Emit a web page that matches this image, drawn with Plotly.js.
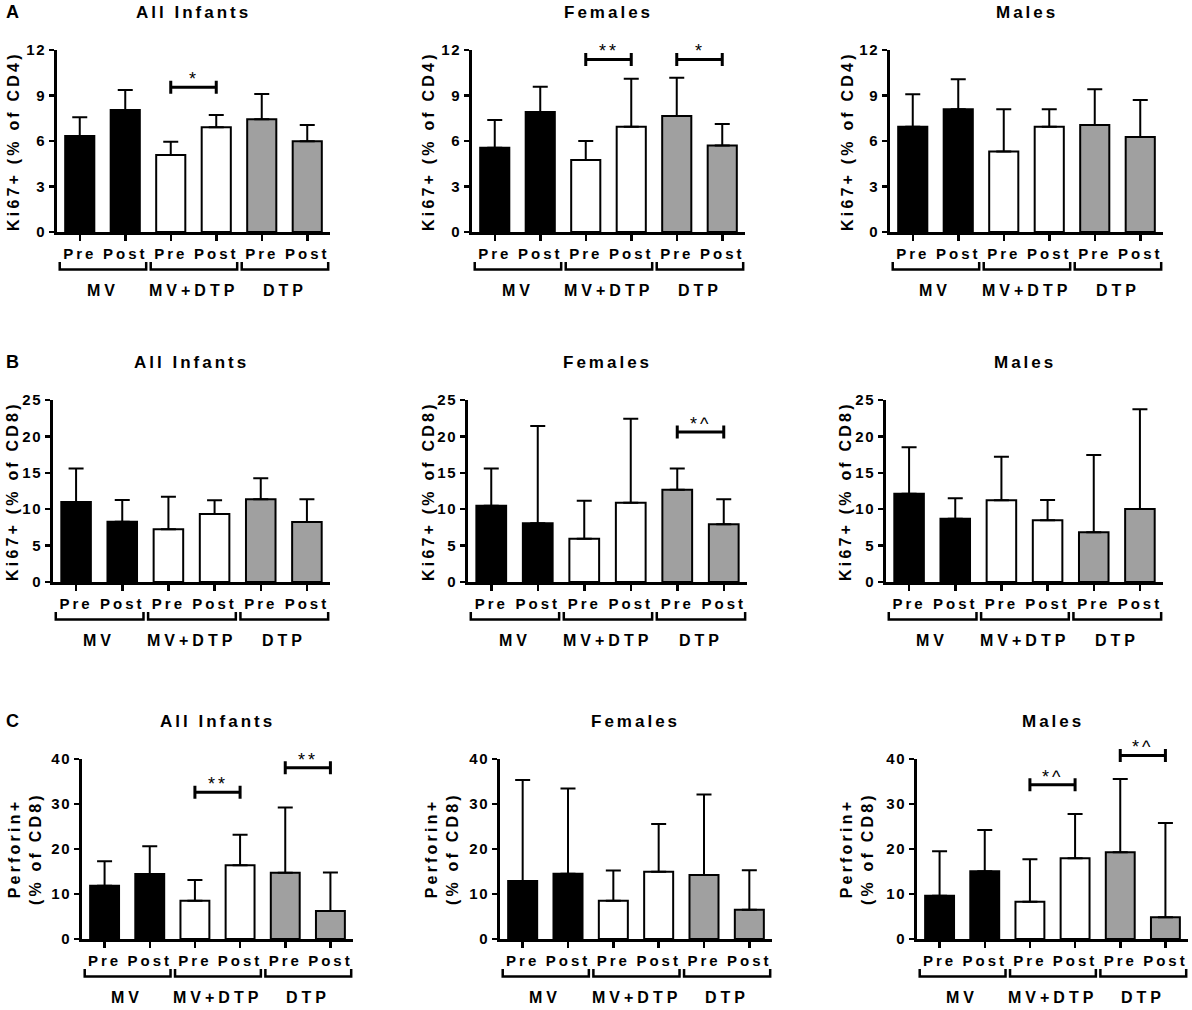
<!DOCTYPE html>
<html>
<head>
<meta charset="utf-8">
<script src="https://cdn.plot.ly/plotly-3.0.1.min.js"></script>
<style>
  html, body { margin: 0; padding: 0; background: white; }
  #chart { width: 1192px; height: 1010px; }
  .xaxislayer-above text { letter-spacing: 3px; }
  .yaxislayer-above text { letter-spacing: 1.5px; }
</style>
</head>
<body>
<div id="chart"></div>
<script>
// Ki67+ and Perforin+ T cells, pre vs post vaccination, by vaccine group and sex

const timepoints = ['Pre', 'Post', 'Pre', 'Post', 'Pre', 'Post'];
const groups = ['MV', 'MV+DTP', 'DTP'];
const cohorts = ['All Infants', 'Females', 'Males'];
const rowLetters = ['A', 'B', 'C'];
const rowTitles = ['Ki67+ (% of CD4)', 'Ki67+ (% of CD8)', 'Perforin+<br>(% of CD8)'];
const rowMax = [12, 25, 40];
const rowDtick = [3, 5, 10];

// bar heights (mean) per cohort: all infants, females, males
const ki67Cd4Mean = [
    [6.33, 8.04, 5.08, 6.90, 7.43, 5.98],
    [5.56, 7.91, 4.75, 6.94, 7.65, 5.71],
    [6.94, 8.09, 5.30, 6.94, 7.05, 6.26]
];
const ki67Cd4Upper = [
    [7.56, 9.36, 5.95, 7.71, 9.10, 7.05],
    [7.38, 9.58, 6.00, 10.10, 10.17, 7.12],
    [9.08, 10.07, 8.09, 8.09, 9.41, 8.70]
];
const ki67Cd8Mean = [
    [10.99, 8.29, 7.23, 9.34, 11.36, 8.24],
    [10.49, 8.06, 5.95, 10.90, 12.68, 7.92],
    [12.13, 8.70, 11.22, 8.47, 6.82, 10.03]
];
const ki67Cd8Upper = [
    [15.60, 11.26, 11.72, 11.22, 14.24, 11.36],
    [15.60, 21.43, 11.17, 22.44, 15.60, 11.36],
    [18.50, 11.49, 17.20, 11.26, 17.45, 23.72]
];
const perforinMean = [
    [11.83, 14.42, 8.50, 16.41, 14.71, 6.21],
    [12.87, 14.49, 8.50, 14.94, 14.20, 6.51],
    [9.61, 15.08, 8.28, 17.97, 19.30, 4.81]
];
const perforinUpper = [
    [17.30, 20.63, 13.09, 23.14, 29.20, 14.79],
    [35.34, 33.42, 15.23, 25.58, 32.09, 15.30],
    [19.52, 24.25, 17.74, 27.80, 35.56, 25.80]
];

// significance brackets: between bar `from` and bar `from + 1`, drawn at height y
const ki67Cd4Sig = [
    [{from: 2, y: 9.54, label: '*'}],
    [{from: 2, y: 11.38, label: '**'}, {from: 4, y: 11.38, label: '*'}],
    []
];
const ki67Cd8Sig = [
    [],
    [{from: 4, y: 20.6, label: '*^'}],
    []
];
const perforinSig = [
    [{from: 2, y: 32.6, label: '**'}, {from: 4, y: 38.08, label: '**'}],
    [],
    [{from: 2, y: 34.3, label: '*^'}, {from: 4, y: 40.8, label: '*^'}]
];

const rowMeans = [ki67Cd4Mean, ki67Cd8Mean, perforinMean];
const rowUppers = [ki67Cd4Upper, ki67Cd8Upper, perforinUpper];
const rowSigs = [ki67Cd4Sig, ki67Cd8Sig, perforinSig];

// layout geometry (pixels)
const W = 1192, H = 1010;
const panelBox = [
    {L: 57, R: 330, T: 50, B: 232}, {L: 472, R: 745, T: 50, B: 232}, {L: 890, R: 1163, T: 50, B: 232},
    {L: 53, R: 330, T: 400, B: 582}, {L: 468, R: 747, T: 400, B: 582}, {L: 886, R: 1163, T: 400, B: 582},
    {L: 82, R: 353, T: 759, B: 939}, {L: 500, R: 772, T: 759, B: 939}, {L: 917, R: 1188, T: 759, B: 939}
];
const yTitleX = [13, 428, 847, 12, 428, 845, 25, 442, 857];
const groupColors = ['#000000', '#ffffff', '#a0a0a0'];
const FONT = 'Liberation Sans, Arial, sans-serif';

const nCat = timepoints.length;
const catToDomain = c => (c + 0.5) / nCat;
const spaced = (txt, px) => '<span style="letter-spacing:' + px + 'px">' + txt + '</span>';

const data = [];
const layout = {
    width: W,
    height: H,
    margin: {l: 0, r: 0, t: 0, b: 0},
    paper_bgcolor: 'white',
    plot_bgcolor: 'white',
    font: {family: FONT, size: 14, color: 'black'},
    showlegend: false,
    bargap: 0.36,
    shapes: [],
    annotations: []
};

for (let r = 0; r < 3; r++) {
    // row letter
    layout.annotations.push({
        text: '<b>' + rowLetters[r] + '</b>',
        xref: 'paper', yref: 'paper',
        x: 4 / W, y: 1 - (panelBox[r * 3].T - 38) / H,
        xanchor: 'left', yanchor: 'middle',
        showarrow: false,
        font: {size: 18, family: FONT}
    });

    for (let c = 0; c < 3; c++) {
        const idx = r * 3 + c;
        const s = idx === 0 ? '' : String(idx + 1);
        const box = panelBox[idx];
        const plotH = box.B - box.T;
        const mean = rowMeans[r][c];
        const upper = rowUppers[r][c];

        data.push({
            type: 'bar',
            x: timepoints.map((_, i) => i),
            y: mean,
            xaxis: 'x' + s,
            yaxis: 'y' + s,
            marker: {
                color: timepoints.map((_, i) => groupColors[Math.floor(i / 2)]),
                line: {color: 'black', width: 2}
            },
            error_y: {
                type: 'data',
                symmetric: false,
                array: upper.map((u, i) => u - mean[i]),
                arrayminus: mean.map(() => 0),
                color: 'black',
                thickness: 2,
                width: 7.5
            },
            hoverinfo: 'skip'
        });

        layout['xaxis' + s] = {
            domain: [box.L / W, box.R / W],
            anchor: 'y' + s,
            range: [-0.5, nCat - 0.5],
            tickmode: 'array',
            tickvals: timepoints.map((_, i) => i),
            ticktext: timepoints,
            ticks: 'outside',
            ticklen: 6,
            tickwidth: 2.5,
            tickcolor: 'black',
            ticklabelstandoff: 0,
            showline: true,
            linewidth: 3,
            linecolor: 'black',
            showgrid: false,
            zeroline: false,
            fixedrange: true,
            tickfont: {size: 15, family: FONT, weight: 'bold'}
        };
        layout['yaxis' + s] = {
            domain: [1 - box.B / H, 1 - box.T / H],
            anchor: 'x' + s,
            range: [0, rowMax[r]],
            tick0: 0,
            dtick: rowDtick[r],
            ticks: 'outside',
            ticklen: 5,
            tickwidth: 2.5,
            tickcolor: 'black',
            showline: true,
            linewidth: 3,
            linecolor: 'black',
            showgrid: false,
            zeroline: false,
            fixedrange: true,
            tickfont: {size: 15, family: FONT, weight: 'bold'}
        };

        // cohort title
        layout.annotations.push({
            text: spaced(cohorts[c], 3),
            xref: 'paper', yref: 'paper',
            x: (box.L + box.R) / 2 / W, y: 1 - (box.T - 38) / H,
            xanchor: 'center', yanchor: 'middle',
            showarrow: false,
            font: {size: 17, family: FONT, weight: 'bold'}
        });

        // y-axis title
        layout.annotations.push({
            text: spaced(rowTitles[r], 3.2),
            xref: 'paper', yref: 'paper',
            x: yTitleX[idx] / W, y: 1 - (box.T + box.B) / 2 / H,
            xanchor: 'center', yanchor: 'middle',
            textangle: -90,
            showarrow: false,
            font: {size: 16, family: FONT, weight: 'bold'}
        });

        // group brackets and names under the Pre/Post labels
        groups.forEach((g, gi) => {
            const x0 = catToDomain(gi * 2 - 0.44);
            const x1 = catToDomain(gi * 2 + 1.46);
            const yb = -37.5 / plotH;
            const yt = -30 / plotH;
            layout.shapes.push({
                type: 'path',
                xref: 'x' + s + ' domain', yref: 'y' + s + ' domain',
                path: `M ${x0},${yt} L ${x0},${yb} L ${x1},${yb} L ${x1},${yt}`,
                line: {color: 'black', width: 2.5}
            });
            layout.annotations.push({
                text: spaced(g, 4),
                xref: 'x' + s + ' domain', yref: 'y' + s + ' domain',
                x: catToDomain(gi * 2 + 0.5), y: -58.5 / plotH,
                xanchor: 'center', yanchor: 'middle',
                showarrow: false,
                font: {size: 16, family: FONT, weight: 'bold'}
            });
        });

        // significance bars
        rowSigs[r][c].forEach(sig => {
            const x0 = catToDomain(sig.from);
            const x1 = catToDomain(sig.from + 1);
            const yv = sig.y / rowMax[r];
            const tip = 6.5 / plotH;
            layout.shapes.push({
                type: 'path',
                xref: 'x' + s + ' domain', yref: 'y' + s + ' domain',
                path: `M ${x0},${yv + tip} L ${x0},${yv - tip} M ${x0},${yv} L ${x1},${yv} M ${x1},${yv + tip} L ${x1},${yv - tip}`,
                line: {color: 'black', width: 3}
            });
            layout.annotations.push({
                text: spaced(sig.label, 3),
                xref: 'x' + s + ' domain', yref: 'y' + s + ' domain',
                x: (x0 + x1) / 2, y: yv,
                xanchor: 'center', yanchor: 'bottom',
                yshift: -4,
                showarrow: false,
                font: {size: 18, family: FONT}
            });
        });
    }
}

Plotly.newPlot('chart', data, layout, {displayModeBar: false, staticPlot: true});
</script>
</body>
</html>
